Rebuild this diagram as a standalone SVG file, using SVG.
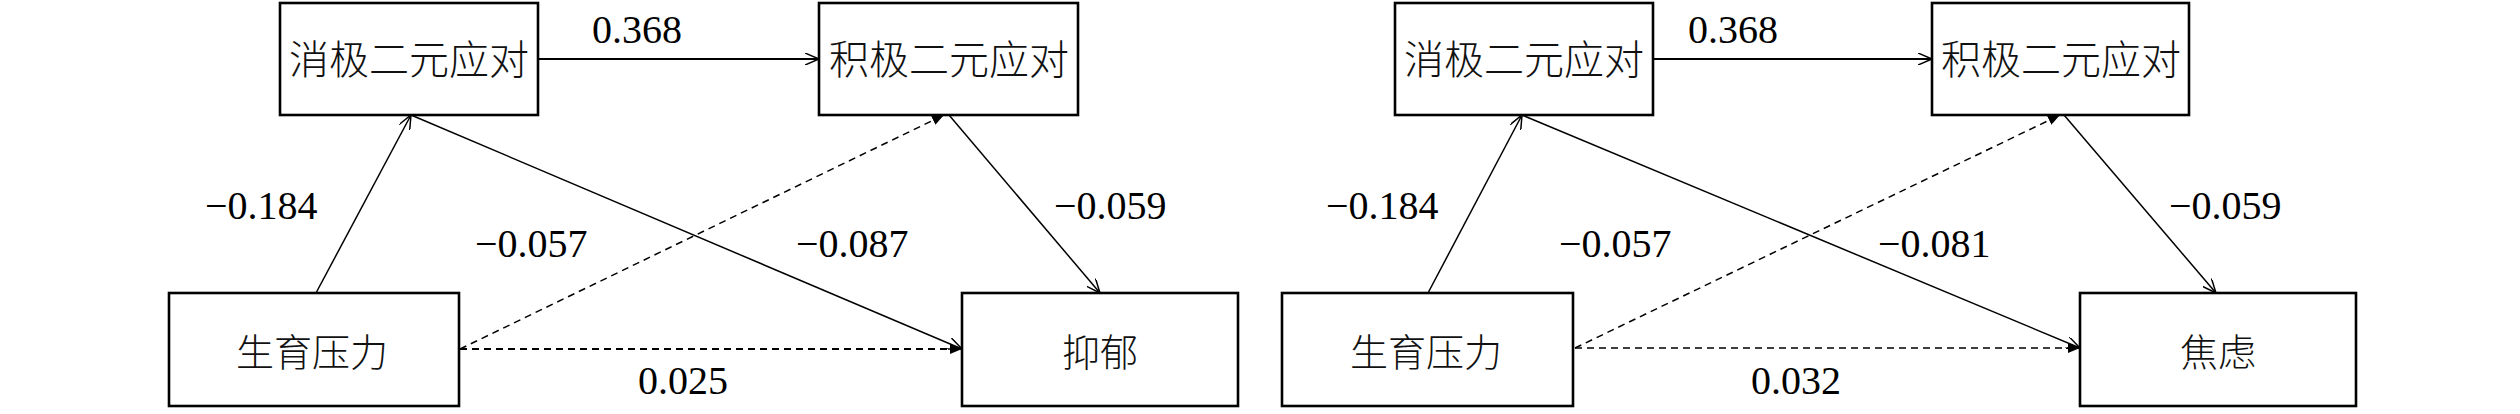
<svg xmlns="http://www.w3.org/2000/svg" width="2520" height="414" viewBox="0 0 2520 414">
<style>
.box{fill:#fff;stroke:#000;stroke-width:2.6}
.cjk{font-family:"Noto Sans CJK SC",sans-serif;font-weight:300;text-anchor:middle;fill:#111}
.top{font-size:40px}
.bot{font-size:38px}
.num{font-family:"Liberation Serif","Times New Roman",serif;font-size:40px;fill:#000}
.c{fill:none;stroke:#000;stroke-width:1.5}
.thick{stroke-width:2.2}
.dash{stroke-dasharray:7,5}
</style>
<defs>
<marker id="open" markerUnits="userSpaceOnUse" markerWidth="16" markerHeight="12" refX="14" refY="6" orient="auto">
<path d="M0,0 L14,6 L0,12" fill="none" stroke="#000" stroke-width="1.5"/>
</marker>
<marker id="fill" markerUnits="userSpaceOnUse" markerWidth="14" markerHeight="10" refX="12" refY="5" orient="auto">
<path d="M0,0 L12,5 L0,10 z" fill="#000"/>
</marker>
</defs>
<rect width="2520" height="414" fill="#fff"/>

<g id="connectors">
<line class="c thick" x1="538" y1="59" x2="819" y2="59" marker-end="url(#open)"/>
<line class="c" x1="316" y1="293" x2="411" y2="115" marker-end="url(#open)"/>
<line class="c" x1="411" y1="115" x2="962" y2="349" marker-end="url(#open)"/>
<line class="c dash" x1="460" y1="349" x2="944" y2="115" marker-end="url(#fill)"/>
<line class="c thick dash" x1="460" y1="349" x2="962" y2="349" marker-end="url(#fill)"/>
<line class="c" x1="949" y1="115" x2="1100" y2="293" marker-end="url(#open)"/>
<line class="c thick" x1="1653" y1="59" x2="1932" y2="59" marker-end="url(#open)"/>
<line class="c" x1="1428" y1="293" x2="1522" y2="115" marker-end="url(#open)"/>
<line class="c" x1="1522" y1="115" x2="2080" y2="348" marker-end="url(#open)"/>
<line class="c dash" x1="1575" y1="348" x2="2060" y2="115" marker-end="url(#fill)"/>
<line class="c dash" x1="1575" y1="348" x2="2080" y2="348" marker-end="url(#fill)"/>
<line class="c" x1="2064" y1="115" x2="2216" y2="293" marker-end="url(#open)"/>
</g>

<g id="labels">
<text class="num" x="592" y="43">0.368</text>
<text class="num" x="205" y="219">−0.184</text>
<text class="num" x="475" y="257">−0.057</text>
<text class="num" x="796" y="257">−0.087</text>
<text class="num" x="1054" y="219">−0.059</text>
<text class="num" x="638" y="394">0.025</text>
<text class="num" x="1688" y="43">0.368</text>
<text class="num" x="1326" y="219">−0.184</text>
<text class="num" x="1559" y="257">−0.057</text>
<text class="num" x="1878" y="257">−0.081</text>
<text class="num" x="2169" y="219">−0.059</text>
<text class="num" x="1751" y="394">0.032</text>
</g>

<g id="L-neg">
<rect class="box" x="280" y="3" width="258" height="112"/>
<text class="cjk top" x="409" y="74">消极二元应对</text>
</g>
<g id="L-pos">
<rect class="box" x="819" y="3" width="259" height="112"/>
<text class="cjk top" x="949" y="74">积极二元应对</text>
</g>
<g id="L-stress">
<rect class="box" x="169" y="293" width="290" height="113"/>
<text class="cjk bot" x="312" y="366">生育压力</text>
</g>
<g id="L-dep">
<rect class="box" x="962" y="293" width="276" height="113"/>
<text class="cjk bot" x="1100" y="366">抑郁</text>
</g>

<g id="R-neg">
<rect class="box" x="1395" y="3" width="258" height="112"/>
<text class="cjk top" x="1524" y="74">消极二元应对</text>
</g>
<g id="R-pos">
<rect class="box" x="1932" y="3" width="257" height="112"/>
<text class="cjk top" x="2061" y="74">积极二元应对</text>
</g>
<g id="R-stress">
<rect class="box" x="1282" y="293" width="291" height="113"/>
<text class="cjk bot" x="1426" y="366">生育压力</text>
</g>
<g id="R-anx">
<rect class="box" x="2080" y="293" width="276" height="113"/>
<text class="cjk bot" x="2218" y="366">焦虑</text>
</g>
</svg>
